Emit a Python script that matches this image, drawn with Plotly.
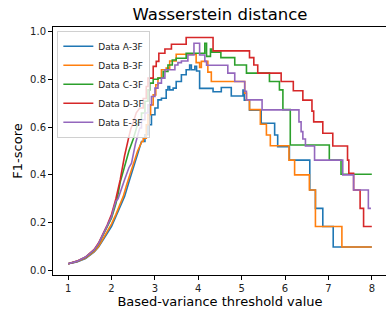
import plotly.graph_objects as go

# ---------------- data ----------------
series_names = ["Data A-3F", "Data B-3F", "Data C-3F", "Data D-3F", "Data E-3F"]
series_colors = ["#1f77b4", "#ff7f0e", "#2ca02c", "#d62728", "#9467bd"]

# A (blue)
a_rise_x = [1.0, 1.2, 1.4, 1.6, 1.7, 1.8, 1.9, 2.0, 2.1, 2.2, 2.3, 2.4, 2.5, 2.53, 2.6, 2.69]
a_rise_y = [0.028, 0.036, 0.05, 0.078, 0.098, 0.125, 0.155, 0.185, 0.225, 0.27, 0.31, 0.37, 0.43, 0.45, 0.49, 0.54]
a_step_x = [2.77, 2.84, 2.92, 3.0, 3.07, 3.15, 3.26, 3.30, 3.34, 3.42, 3.49, 3.61, 3.72, 3.80, 3.84, 3.92, 3.96,
            4.03, 4.34, 4.53, 4.76, 5.03, 5.06, 5.18, 5.45, 5.76, 5.83, 6.10, 6.57, 6.70, 6.87, 7.11]
a_step_y = [0.568, 0.61, 0.652, 0.68, 0.714, 0.721, 0.756, 0.77, 0.756, 0.763, 0.791, 0.819, 0.84, 0.86, 0.84,
            0.855, 0.835, 0.762, 0.748, 0.766, 0.73, 0.755, 0.713, 0.671, 0.616, 0.567, 0.518, 0.462, 0.337,
            0.26, 0.184, 0.098]
a_end = 8.0

# B (orange)
b_rise_x = [1.0, 1.2, 1.4, 1.6, 1.7, 1.8, 1.9, 2.0, 2.1, 2.2, 2.27, 2.35, 2.4, 2.5, 2.6, 2.65, 2.7]
b_rise_y = [0.028, 0.037, 0.052, 0.08, 0.10, 0.13, 0.16, 0.195, 0.235, 0.28, 0.31, 0.36, 0.39, 0.45, 0.50, 0.52, 0.54]
b_step_x = [2.73, 2.80, 2.84, 2.90, 2.96, 3.02, 3.07, 3.15, 3.26, 3.34, 3.49, 3.95, 4.03, 4.07, 4.22, 4.30,
            5.07, 5.11, 5.18, 5.43, 5.57, 5.66, 6.09, 6.22, 6.56, 6.70, 7.31]
b_step_y = [0.554, 0.61, 0.652, 0.693, 0.735, 0.777, 0.805, 0.84, 0.847, 0.877, 0.905, 0.87, 0.85, 0.875,
            0.83, 0.791, 0.742, 0.713, 0.673, 0.612, 0.567, 0.522, 0.462, 0.40, 0.337, 0.184, 0.098]
b_end = 8.0

# C (green)
c_rise_x = [1.0, 1.2, 1.4, 1.6, 1.7, 1.8, 1.9, 2.0, 2.1, 2.14, 2.2, 2.3, 2.34, 2.4, 2.5, 2.57, 2.63]
c_rise_y = [0.028, 0.038, 0.055, 0.085, 0.11, 0.145, 0.18, 0.22, 0.28, 0.31, 0.37, 0.44, 0.47, 0.50, 0.55, 0.59, 0.63]
c_step_x = [2.69, 2.77, 2.84, 2.88, 2.96, 3.07, 3.19, 3.30, 3.40, 3.49, 3.72, 4.15, 4.19, 4.28, 4.31, 4.52,
            4.84, 5.11, 5.64, 5.87, 5.95, 6.12, 7.02, 7.29]
c_step_y = [0.659, 0.708, 0.756, 0.784, 0.80, 0.805, 0.833, 0.86, 0.881, 0.888, 0.909, 0.951, 0.896, 0.927,
            0.914, 0.891, 0.860, 0.826, 0.791, 0.756, 0.673, 0.525, 0.462, 0.403]
c_end = 8.0

# D (red)
d_rise_x = [1.0, 1.2, 1.4, 1.6, 1.7, 1.8, 1.9, 2.0, 2.1, 2.2, 2.3, 2.4, 2.44, 2.5, 2.57, 2.65]
d_rise_y = [0.028, 0.039, 0.056, 0.088, 0.115, 0.152, 0.19, 0.235, 0.30, 0.38, 0.48, 0.56, 0.59, 0.62, 0.66, 0.68]
d_step_x = [2.73, 2.80, 2.84, 2.96, 3.03, 3.09, 3.23, 3.38, 3.72, 4.34, 5.18, 5.28, 5.37, 5.91, 6.19, 6.41,
            6.62, 6.66, 6.87, 7.10, 7.44, 7.47, 7.58, 7.73, 7.81]
d_step_y = [0.72, 0.77, 0.805, 0.854, 0.875, 0.909, 0.927, 0.947, 0.975, 0.919, 0.891, 0.860, 0.826, 0.791,
            0.752, 0.713, 0.667, 0.622, 0.574, 0.521, 0.462, 0.407, 0.337, 0.26, 0.184]
d_end = 8.0

# E (purple)
e_rise_x = [1.0, 1.2, 1.4, 1.6, 1.7, 1.8, 1.9, 2.0, 2.05, 2.1, 2.15, 2.2, 2.3, 2.4, 2.46, 2.55, 2.65]
e_rise_y = [0.028, 0.038, 0.056, 0.086, 0.112, 0.148, 0.185, 0.225, 0.26, 0.29, 0.30, 0.33, 0.38, 0.43, 0.449, 0.53, 0.596]
e_step_x = [2.69, 2.77, 2.84, 2.92, 3.0, 3.07, 3.15, 3.23, 3.46, 3.53, 3.61, 3.76, 3.90, 4.03, 4.15, 4.19,
            4.68, 4.84, 5.07, 5.11, 5.47, 6.32, 6.37, 6.41, 6.47, 6.68, 7.33, 7.58, 7.92]
e_step_y = [0.631, 0.659, 0.693, 0.728, 0.763, 0.784, 0.805, 0.84, 0.86, 0.87, 0.877, 0.902, 0.951, 0.902,
            0.875, 0.859, 0.826, 0.791, 0.75, 0.714, 0.672, 0.622, 0.581, 0.55, 0.521, 0.462, 0.40, 0.337, 0.26]
e_end = 7.98

x_ticks = [1, 2, 3, 4, 5, 6, 7, 8]
y_ticks = [0.0, 0.2, 0.4, 0.6, 0.8, 1.0]

series = [
    (a_rise_x, a_rise_y, a_step_x, a_step_y, a_end),
    (b_rise_x, b_rise_y, b_step_x, b_step_y, b_end),
    (c_rise_x, c_rise_y, c_step_x, c_step_y, c_end),
    (d_rise_x, d_rise_y, d_step_x, d_step_y, d_end),
    (e_rise_x, e_rise_y, e_step_x, e_step_y, e_end),
]


def build_path(rx, ry, sx, sy, x_end):
    xs, ys = list(rx), list(ry)
    prev = ys[-1]
    for x, y in zip(sx, sy):
        xs += [x, x]
        ys += [prev, y]
        prev = y
    xs.append(x_end)
    ys.append(prev)
    return xs, ys


FONT = "DejaVu Sans"
fig = go.Figure()
for name, color, s in zip(series_names, series_colors, series):
    xs, ys = build_path(*s)
    fig.add_trace(go.Scatter(x=xs, y=ys, mode="lines", name=name,
                             line=dict(color=color, width=1.6)))

axis_common = dict(showline=True, linecolor="black", linewidth=1, mirror=True,
                   ticks="outside", ticklen=4, tickwidth=1, tickcolor="black",
                   showgrid=False, zeroline=False, automargin=False,
                   tickfont=dict(family=FONT, size=10, color="#222"))

fig.update_layout(
    width=387, height=313,
    margin=dict(l=53, r=0, t=27, b=38, pad=0),
    paper_bgcolor="white", plot_bgcolor="white",
    font=dict(family=FONT, color="black"),
    title=dict(text="Wasserstein distance", x=0.5, xref="paper", xanchor="center",
               y=1 - 14 / 313, yref="container", yanchor="middle",
               font=dict(family=FONT, size=16.5, color="black")),
    xaxis=dict(range=[0.65, 8.35], tickvals=x_ticks,
               title=dict(text="Based-variance threshold value", standoff=2,
                          font=dict(family=FONT, size=13, color="black")),
               **axis_common),
    yaxis=dict(range=[-0.019, 1.019], tickvals=y_ticks, tickformat=".1f",
               title=dict(text="F1-score", standoff=4,
                          font=dict(family=FONT, size=13, color="black")),
               **axis_common),
    legend=dict(x=0.013, y=0.985, xanchor="left", yanchor="top",
                bgcolor="rgba(255,255,255,0.8)", bordercolor="#d0d0d0", borderwidth=1,
                font=dict(family=FONT, size=9, color="#222"),
                itemwidth=30, tracegroupgap=0),
    showlegend=True,
)

fig.write_html("out.html",
               config={"displayModeBar": False},
               post_script="document.body.style.margin='0';document.body.style.overflow='hidden';")
